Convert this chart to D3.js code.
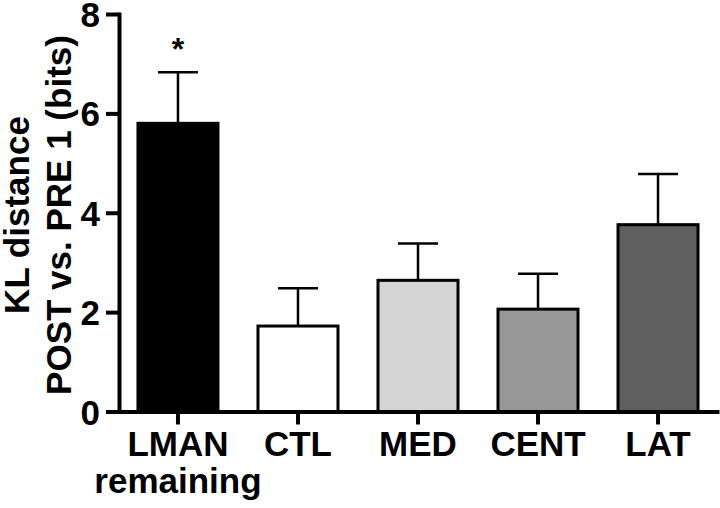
<!DOCTYPE html>
<html>
<head>
<meta charset="utf-8">
<script src="https://cdn.jsdelivr.net/npm/d3@7"></script>
<style>
	body { margin: 0; background: #fff; }
	svg text { font-family: "Liberation Sans", Arial, sans-serif; font-weight: bold; fill: #000; }
</style>
</head>
<body>
<svg width="720" height="508"></svg>
<script>
var categories = ["LMAN remaining", "CTL", "MED", "CENT", "LAT"];
var means = [5.8, 1.72, 2.64, 2.06, 3.76];
var sems = [1.03, 0.76, 0.74, 0.71, 1.02];
var stars = ["*", "", "", "", ""];
var yTicks = [0, 2, 4, 6, 8];
var fills = ["#000000", "#ffffff", "#d4d4d4", "#989898", "#5f5f5f"];

var svg = d3.select("svg");

var x = d3.scaleBand()
	.domain(categories)
	.range([119, 717])
	.paddingInner(1 / 3)
	.paddingOuter(0.158);

var y = d3.scaleLinear()
	.domain([0, 8])
	.range([411.5, 14]);

var color = d3.scaleOrdinal().domain(categories).range(fills);

var data = categories.map(function(c, i) {
	return { cat: c, mean: means[i], sem: sems[i], star: stars[i] };
});

// bars
svg.selectAll(".bar")
	.data(data)
	.enter().append("rect")
	.attr("class", "bar")
	.attr("x", function(d) { return x(d.cat); })
	.attr("width", x.bandwidth())
	.attr("y", function(d) { return y(d.mean); })
	.attr("height", function(d) { return y(0) - y(d.mean); })
	.attr("fill", function(d) { return color(d.cat); })
	.attr("stroke", "#000")
	.attr("stroke-width", 3);

// error bars (upper only)
svg.selectAll(".err")
	.data(data)
	.enter().append("line")
	.attr("class", "err")
	.attr("x1", function(d) { return x(d.cat) + x.bandwidth() / 2; })
	.attr("x2", function(d) { return x(d.cat) + x.bandwidth() / 2; })
	.attr("y1", function(d) { return y(d.mean); })
	.attr("y2", function(d) { return y(d.mean + d.sem); })
	.attr("stroke", "#000")
	.attr("stroke-width", 2.5);

svg.selectAll(".cap")
	.data(data)
	.enter().append("line")
	.attr("class", "cap")
	.attr("x1", function(d) { return x(d.cat) + x.bandwidth() / 4; })
	.attr("x2", function(d) { return x(d.cat) + x.bandwidth() * 3 / 4; })
	.attr("y1", function(d) { return y(d.mean + d.sem); })
	.attr("y2", function(d) { return y(d.mean + d.sem); })
	.attr("stroke", "#000")
	.attr("stroke-width", 2.5);

svg.selectAll(".star")
	.data(data)
	.enter().append("text")
	.attr("class", "star")
	.attr("x", function(d) { return x(d.cat) + x.bandwidth() / 2; })
	.attr("y", function(d) { return y(d.mean + d.sem) - 12; })
	.attr("text-anchor", "middle")
	.style("font-size", "32px")
	.text(function(d) { return d.star; });

// y axis
var gy = svg.append("g")
	.attr("transform", "translate(119,0)")
	.call(d3.axisLeft(y).tickValues(yTicks).tickSize(13).tickSizeOuter(0).tickPadding(6));

// x axis
var gx = svg.append("g")
	.attr("transform", "translate(0," + y(0) + ")")
	.call(d3.axisBottom(x).tickSize(13).tickSizeOuter(0).tickFormat(""));

[gy, gx].forEach(function(g) {
	g.select(".domain").attr("stroke", "#000").attr("stroke-width", 4).attr("stroke-linecap", "square");
	g.selectAll(".tick line").attr("stroke", "#000").attr("stroke-width", 4);
});

gy.selectAll(".tick text")
	.style("font-size", "35px")
	.attr("dy", "0.36em");

gx.selectAll(".tick").append("text")
	.attr("y", 44)
	.attr("text-anchor", "middle")
	.style("font-size", "35px")
	.selectAll("tspan")
	.data(function(d) { return d.split(" "); })
	.enter().append("tspan")
	.attr("x", 0)
	.attr("dy", function(d, i) { return i ? 37 : 0; })
	.text(function(d) { return d; });

// y axis title
var title = svg.append("text")
	.attr("transform", "translate(0,215) rotate(-90)")
	.attr("text-anchor", "middle")
	.style("font-size", "35px");
title.append("tspan").attr("x", 0).attr("y", 29).text("KL distance");
title.append("tspan").attr("x", 0).attr("y", 71).text("POST vs. PRE 1 (bits)");
</script>
</body>
</html>
